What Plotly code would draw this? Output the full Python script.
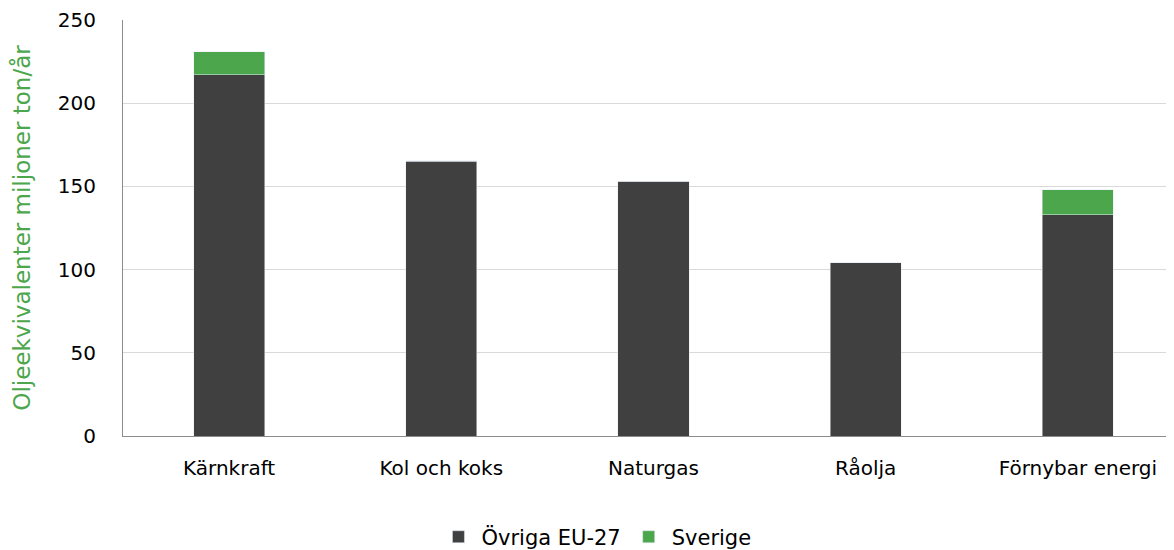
import plotly.graph_objects as go

categories = ["Kärnkraft", "Kol och koks", "Naturgas", "Råolja", "Förnybar energi"]
ovriga = [217, 165, 153, 104, 133]
sverige = [14, 0.4, 0, 0, 15]
tick_vals = [0, 50, 100, 150, 200, 250]

dark = "#404040"
green = "#4CA64C"
font = "'DejaVu Sans', sans-serif"
fs = 20

fig = go.Figure()
fig.add_trace(go.Bar(x=categories, y=ovriga, name="Övriga EU-27", marker_color=dark, width=0.335))
fig.add_trace(go.Bar(x=categories, y=sverige, name="Sverige", marker_color=green, width=0.335))

fig.update_layout(
    barmode="stack",
    width=1174, height=550,
    margin=dict(l=115, r=8, t=12, b=122, autoexpand=False),
    plot_bgcolor="white", paper_bgcolor="white",
    font=dict(family=font, size=fs, color="#000000"),
    showlegend=True,
    legend=dict(orientation="h", x=0.45, xanchor="center", y=-0.243, yanchor="middle",
                font=dict(size=21), traceorder="normal", itemwidth=36),
    xaxis=dict(range=[-0.5, 4.453], showline=True, linecolor="#8c8c8c", linewidth=1,
               ticks="", tickfont=dict(size=fs), showgrid=False, automargin=False,
               ticklabelstandoff=14),
    yaxis=dict(range=[0, 250], tickvals=tick_vals, showline=True, linecolor="#8c8c8c", linewidth=1,
               gridcolor="#d9d9d9", gridwidth=1, ticks="", tickfont=dict(size=fs), automargin=False,
               ticklabelstandoff=22,
               title=dict(text="Oljeekvivalenter miljoner ton/år", font=dict(color=green, size=23), standoff=20),
               zeroline=False),
)

fig.write_html("out.html")
